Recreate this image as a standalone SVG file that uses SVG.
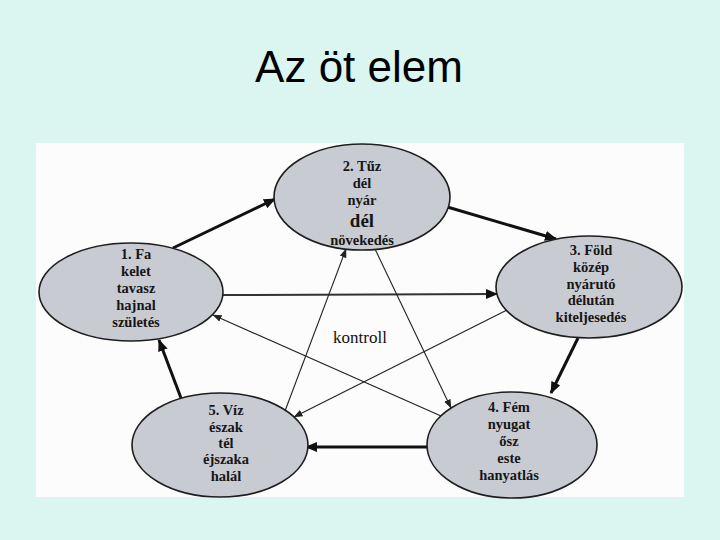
<svg xmlns="http://www.w3.org/2000/svg" width="720" height="540" viewBox="0 0 720 540">
  <style>
    .title { font-family: "Liberation Sans", Arial, sans-serif; font-size: 44px; fill: #000; }
    .node ellipse { fill: #c9cbd3; stroke: #1e1e1e; stroke-width: 1.6; }
    .node text { font-family: "Liberation Serif", "Times New Roman", serif; font-weight: bold; font-size: 14.5px; fill: #161616; text-anchor: middle; }
    .node text.big { font-size: 19px; }
    .thick { stroke: #111; stroke-width: 3; fill: none; }
    .thin { stroke: #222; stroke-width: 1.1; fill: none; }
    .mid { stroke: #333; stroke-width: 2; fill: none; }
    .label { font-family: "Liberation Serif", "Times New Roman", serif; font-size: 17px; fill: #111; text-anchor: middle; }
  </style>
  <defs>
    <marker id="headThick" viewBox="0 0 12 10" refX="11" refY="5" markerWidth="12" markerHeight="10" markerUnits="userSpaceOnUse" orient="auto">
      <path d="M0,0 L12,5 L0,10 z" fill="#111"/>
    </marker>
    <marker id="headThin" viewBox="0 0 9 7" refX="8.5" refY="3.5" markerWidth="9" markerHeight="7" markerUnits="userSpaceOnUse" orient="auto">
      <path d="M0,0 L9,3.5 L0,7 z" fill="#222"/>
    </marker>
  </defs>

  <rect x="0" y="0" width="720" height="540" fill="#dbf5f0"/>
  <text class="title" x="359" y="82" text-anchor="middle">Az öt elem</text>
  <rect x="36" y="143" width="648" height="354" fill="#fcfcfd"/>

  <g id="connectors">
    <!-- generating cycle (thick) -->
    <line class="thick" x1="173" y1="248" x2="275" y2="199" marker-end="url(#headThick)"/>
    <line class="thick" x1="444" y1="206" x2="556" y2="239" marker-end="url(#headThick)"/>
    <line class="thick" x1="578" y1="338" x2="551" y2="393" marker-end="url(#headThick)"/>
    <line class="thick" x1="427" y1="447" x2="306" y2="447" marker-end="url(#headThick)"/>
    <line class="thick" x1="181" y1="398" x2="159" y2="340" marker-end="url(#headThick)"/>
    <!-- control (thin) -->
    <line class="mid" x1="223" y1="295" x2="497" y2="294" marker-end="url(#headThick)"/>
    <line class="thin" x1="375" y1="249" x2="451" y2="408" marker-end="url(#headThin)"/>
    <line class="thin" x1="285" y1="411" x2="346" y2="249" marker-end="url(#headThin)"/>
    <line class="thin" x1="441" y1="416" x2="213" y2="315" marker-end="url(#headThin)"/>
    <line class="thin" x1="507" y1="310" x2="294" y2="417" marker-end="url(#headThin)"/>
  </g>

  <text class="label" x="360" y="343">kontroll</text>

  <g id="node-tuz" class="node">
    <ellipse cx="362" cy="197" rx="88" ry="53"/>
    <text x="362" y="171">2. Tűz</text>
    <text x="362" y="188">dél</text>
    <text x="362" y="205">nyár</text>
    <text class="big" x="362" y="227">dél</text>
    <text x="362" y="245">növekedés</text>
  </g>

  <g id="node-fa" class="node">
    <ellipse cx="131" cy="292" rx="92" ry="49"/>
    <text x="136" y="259">1.  Fa</text>
    <text x="136" y="276">kelet</text>
    <text x="136" y="293">tavasz</text>
    <text x="136" y="310">hajnal</text>
    <text x="136" y="327">születés</text>
  </g>

  <g id="node-fold" class="node">
    <ellipse cx="589" cy="287" rx="93" ry="51"/>
    <text x="591" y="255">3.  Föld</text>
    <text x="591" y="272">közép</text>
    <text x="591" y="289">nyárutó</text>
    <text x="591" y="305">délután</text>
    <text x="591" y="322">kiteljesedés</text>
  </g>

  <g id="node-fem" class="node">
    <ellipse cx="512" cy="445" rx="85" ry="53"/>
    <text x="509" y="412">4.  Fém</text>
    <text x="509" y="429">nyugat</text>
    <text x="509" y="446">ősz</text>
    <text x="509" y="463">este</text>
    <text x="509" y="480">hanyatlás</text>
  </g>

  <g id="node-viz" class="node">
    <ellipse cx="220" cy="445" rx="88" ry="52"/>
    <text x="226" y="415">5.  Víz</text>
    <text x="226" y="432">észak</text>
    <text x="226" y="448">tél</text>
    <text x="226" y="464">éjszaka</text>
    <text x="226" y="481">halál</text>
  </g>
</svg>
